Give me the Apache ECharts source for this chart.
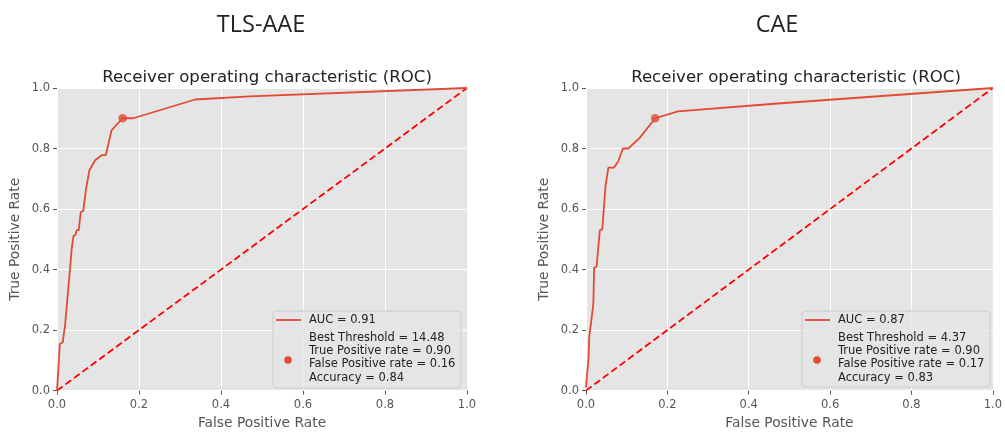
<!DOCTYPE html>
<html>
<head>
<meta charset="utf-8">
<script src="https://cdn.jsdelivr.net/npm/echarts@6/dist/echarts.min.js"></script>
<style>html,body{margin:0;padding:0;background:#fff;}#c{width:1005px;height:435px;}</style>
</head>
<body>
<div id="c"></div>
<script>
// ---- data ----
const panelTitles = ['TLS-AAE', 'CAE'];
const plotTitle = 'Receiver operating characteristic (ROC)';
const xTicks = [0, 0.2, 0.4, 0.6, 0.8, 1.0];
const yTicks = [0, 0.2, 0.4, 0.6, 0.8, 1.0];

const tlsFpr = [0, 0.007, 0.014, 0.02, 0.028, 0.036, 0.04, 0.045, 0.048, 0.053, 0.058, 0.064, 0.071, 0.079, 0.093, 0.109, 0.119, 0.133, 0.16, 0.186, 0.337, 0.47, 1.0];
const tlsTpr = [0, 0.154, 0.16, 0.22, 0.345, 0.47, 0.51, 0.515, 0.53, 0.53, 0.59, 0.594, 0.668, 0.728, 0.761, 0.778, 0.778, 0.86, 0.90, 0.90, 0.962, 0.972, 1.0];
const tlsBest = [0.16, 0.90];
const tlsAuc = 'AUC = 0.91';
const tlsInfo = ['Best Threshold = 14.48', 'True Positive rate = 0.90', 'False Positive rate = 0.16', 'Accuracy = 0.84'];

const caeFpr = [0, 0.003, 0.006, 0.008, 0.012, 0.018, 0.02, 0.026, 0.034, 0.04, 0.048, 0.055, 0.069, 0.079, 0.091, 0.104, 0.132, 0.17, 0.226, 0.463, 1.0];
const caeTpr = [0.01, 0.06, 0.10, 0.18, 0.22, 0.286, 0.406, 0.41, 0.53, 0.533, 0.676, 0.737, 0.737, 0.757, 0.80, 0.80, 0.835, 0.90, 0.923, 0.948, 1.0];
const caeBest = [0.17, 0.90];
const caeAuc = 'AUC = 0.87';
const caeInfo = ['Best Threshold = 4.37', 'True Positive rate = 0.90', 'False Positive rate = 0.17', 'Accuracy = 0.83'];

const diag = [[0, 0], [1, 1]];

// ---- styles ----
const RED = '#E24A33';
const FONT = 'DejaVu Sans';
const grids = [
  { left: 57, right: 538, top: 88, bottom: 42 },
  { left: 586, right: 9, top: 88, bottom: 42 }
];

function zip(a, b) { return a.map((v, i) => [v, b[i]]); }

function makeXAxis(i) {
  return {
    type: 'value', gridIndex: i, min: 0, max: 1, interval: 0.2,
    name: 'False Positive Rate', nameLocation: 'middle', nameGap: 22,
    nameTextStyle: { color: '#555', fontSize: 13.8, fontFamily: FONT },
    axisLine: { show: false },
    axisTick: { show: true, length: 4, lineStyle: { color: '#555' } },
    axisLabel: { color: '#555', fontSize: 11.5, fontFamily: FONT, margin: 8.5,
      formatter: v => v.toFixed(1) },
    splitLine: { show: true, lineStyle: { color: '#fff', width: 1 } }
  };
}
function makeYAxis(i) {
  return {
    type: 'value', gridIndex: i, min: 0, max: 1, interval: 0.2,
    name: 'True Positive Rate', nameLocation: 'middle', nameGap: 35, nameRotate: 90,
    nameTextStyle: { color: '#555', fontSize: 13.8, fontFamily: FONT },
    axisLine: { show: false },
    axisTick: { show: true, length: 4, lineStyle: { color: '#555' } },
    axisLabel: { color: '#555', fontSize: 11.5, fontFamily: FONT, margin: 7,
      formatter: v => v.toFixed(1) },
    splitLine: { show: true, lineStyle: { color: '#fff', width: 1 } }
  };
}

const panels = [
  { fpr: tlsFpr, tpr: tlsTpr, best: tlsBest, auc: tlsAuc, info: tlsInfo },
  { fpr: caeFpr, tpr: caeTpr, best: caeBest, auc: caeAuc, info: caeInfo }
];

const series = [];
panels.forEach((p, i) => {
  series.push({
    type: 'line', xAxisIndex: i, yAxisIndex: i, data: zip(p.fpr, p.tpr),
    showSymbol: false, symbol: 'none', lineStyle: { color: RED, width: 1.8 }, z: 3, animation: false
  });
  series.push({
    type: 'line', xAxisIndex: i, yAxisIndex: i, data: diag,
    showSymbol: false, symbol: 'none', lineStyle: { color: '#FF0000', width: 1.8, type: [7, 3.5] }, z: 2, animation: false
  });
  series.push({
    type: 'scatter', xAxisIndex: i, yAxisIndex: i, data: [p.best],
    symbolSize: 8.5, itemStyle: { color: RED }, z: 4, animation: false
  });
});

// legend boxes drawn as graphics
const legendBoxes = [
  { x: 273, y: 311, w: 188, h: 77 },
  { x: 802, y: 311, w: 188, h: 76 }
];
const graphic = [];
panels.forEach((p, i) => {
  const b = legendBoxes[i];
  graphic.push({ type: 'rect', shape: { x: b.x, y: b.y, width: b.w, height: b.h, r: 3 },
    style: { fill: 'rgba(229,229,229,0.8)', stroke: '#CCCCCC', lineWidth: 1 }, z: 100 });
  graphic.push({ type: 'line', shape: { x1: b.x + 3, y1: b.y + 9, x2: b.x + 28, y2: b.y + 9 },
    style: { stroke: RED, lineWidth: 1.8 }, z: 101 });
  graphic.push({ type: 'text', x: b.x + 36, y: b.y + 9,
    style: { text: p.auc, fill: '#222', font: '11.5px "DejaVu Sans"', verticalAlign: 'middle' }, z: 101 });
  graphic.push({ type: 'circle', shape: { cx: b.x + 15, cy: b.y + 49, r: 3.8 },
    style: { fill: RED }, z: 101 });
  graphic.push({ type: 'text', x: b.x + 36, y: b.y + 20,
    style: { text: p.info.join('\n'), fill: '#222', font: '11.5px "DejaVu Sans"', lineHeight: 13.4, verticalAlign: 'top' }, z: 101 });
});

const option = {
  backgroundColor: '#fff',
  animation: false,
  title: [
    { text: panelTitles[0], left: 256, top: 8, textAlign: 'center',
      textStyle: { fontFamily: 'Open Sans', fontWeight: 'normal', fontSize: 23.5, color: '#222' } },
    { text: panelTitles[1], left: 772, top: 8, textAlign: 'center',
      textStyle: { fontFamily: 'Open Sans', fontWeight: 'normal', fontSize: 23.5, color: '#222' } },
    { text: plotTitle, left: 262, top: 64, textAlign: 'center',
      textStyle: { fontFamily: FONT, fontWeight: 'normal', fontSize: 16.6, color: '#222' } },
    { text: plotTitle, left: 791, top: 64, textAlign: 'center',
      textStyle: { fontFamily: FONT, fontWeight: 'normal', fontSize: 16.6, color: '#222' } }
  ],
  grid: grids.map(g => Object.assign({ show: true, backgroundColor: '#E5E5E5', borderWidth: 0 }, g)),
  xAxis: [makeXAxis(0), makeXAxis(1)],
  yAxis: [makeYAxis(0), makeYAxis(1)],
  series: series,
  graphic: graphic
};

const chart = echarts.init(document.getElementById('c'), null, { renderer: 'canvas' });
chart.setOption(option);
</script>
</body>
</html>
